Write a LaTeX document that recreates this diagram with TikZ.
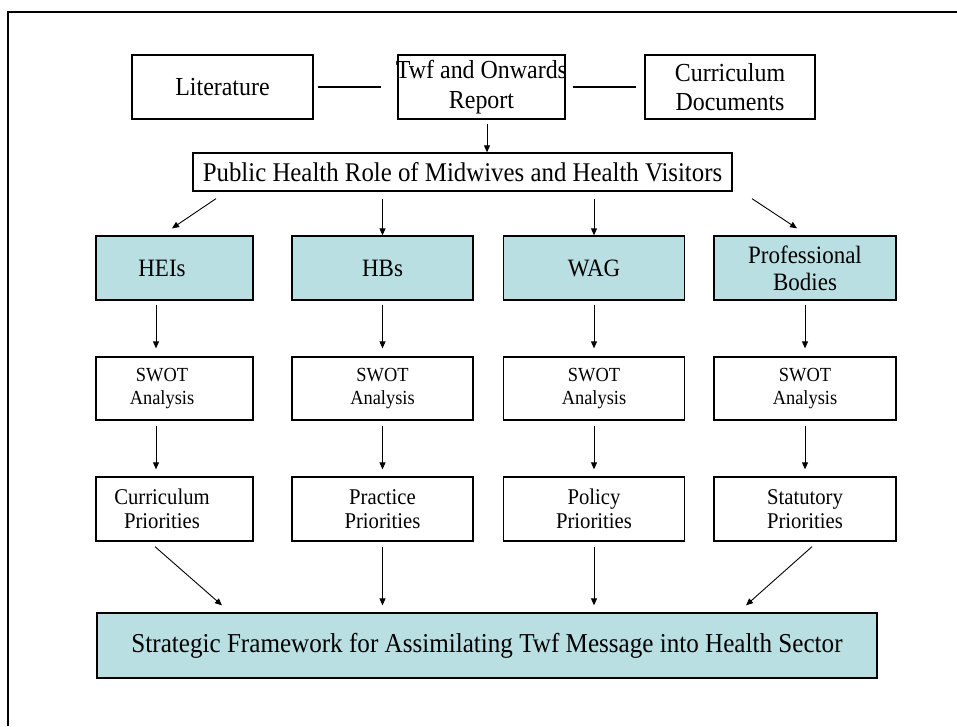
\documentclass[tikz,border=0pt]{standalone}
\usepackage{fontspec}
\setmainfont{Liberation Serif}[FakeStretch=0.92]
\usetikzlibrary{arrows.meta}
\definecolor{tealfill}{RGB}{185,223,227}
\newcommand\shiftl[1]{\makebox[0pt][c]{\hspace*{-25pt}#1}}
\begin{document}
\begin{tikzpicture}[x=1pt,y=-1pt,
  bx/.style={draw=black, line width=1.3pt, inner sep=0pt, align=center, anchor=center},
  fl/.style={bx, fill=tealfill},
  arr/.style={-{Triangle[length=7pt,width=6pt]}, line width=0.9pt},
  link/.style={line width=2pt},
  toprow/.style={minimum width=181pt, minimum height=64pt, font=\fontsize{26}{29.5}\selectfont},
  rowtwo/.style={fl, minimum width=181pt, minimum height=64pt, font=\fontsize{25}{27}\selectfont},
  swot/.style={bx, minimum width=181pt, minimum height=63pt, font=\fontsize{20}{22.5}\selectfont},
  prio/.style={bx, minimum width=181pt, minimum height=64pt, font=\fontsize{22.5}{24.5}\selectfont}]
\useasboundingbox (0,0) rectangle (957,726);
\draw[line width=2.5pt] (8,726) -- (8,12) -- (957,12);

% top row
\node[bx, toprow] (lit) at (222.5,87) {Literature};
\node[bx, toprow, minimum width=167pt] (twf) at (481.5,87)
  {\makebox[0pt][c]{Twf and Onwards}\\Report};
\node[bx, toprow, minimum width=170pt] (cur) at (730,87) {Curriculum\\Documents};
\draw[link] ([xshift=4pt]lit.east) -- ([xshift=-16pt]twf.west);
\draw[link] ([xshift=7pt]twf.east) -- ([xshift=-8pt]cur.west);

% public health
\node[bx, minimum width=539pt, minimum height=38pt, font=\fontsize{27}{30}\selectfont] (ph) at (462.5,172)
  {Public Health Role of Midwives and Health Visitors};
\draw[arr] ([xshift=5.5pt,yshift=-4pt]twf.south) -- ([xshift=24.5pt]ph.north);

% row 2
\node[rowtwo, minimum width=157pt] (hei) at (174.5,268) {\shiftl{HEIs}};
\node[rowtwo] (hb) at (382.5,268) {HBs};
\node[rowtwo] (wag) at (594,268) {WAG};
\node[rowtwo, minimum width=182pt] (pb) at (805,268) {Professional\\Bodies};

\draw[arr] ([xshift=-246.5pt,yshift=-7pt]ph.south) -- ([xshift=-2.5pt,yshift=7pt]hei.north);
\draw[arr] (ph.south -| hb.north) ++(0,7) -- (hb.north);
\draw[arr] (ph.south -| wag.north) ++(0,7) -- (wag.north);
\draw[arr] ([xshift=289.5pt,yshift=-7pt]ph.south) -- ([xshift=-8pt,yshift=7pt]pb.north);

% SWOT row
\node[swot, minimum width=157pt] (s1) at (174.5,388.5) {\shiftl{SWOT}\\\shiftl{Analysis}};
\node[swot] (s2) at (382.5,388.5) {SWOT\\Analysis};
\node[swot] (s3) at (594,388.5) {SWOT\\Analysis};
\node[swot, minimum width=182pt] (s4) at (805,388.5) {SWOT\\Analysis};

\draw[arr] ([xshift=-18.5pt,yshift=-4pt]hei.south) -- ([xshift=-18.5pt,yshift=8pt]s1.north);
\foreach \a/\b in {hb/s2,wag/s3,pb/s4}{
  \draw[arr] ([yshift=-4pt]\a.south) -- ([yshift=8pt]\b.north);
}

% priorities row
\node[prio, minimum width=157pt] (p1) at (174.5,509) {\shiftl{Curriculum}\\\shiftl{Priorities}};
\node[prio] (p2) at (382.5,509) {Practice\\Priorities};
\node[prio] (p3) at (594,509) {Policy\\Priorities};
\node[prio, minimum width=182pt] (p4) at (805,509) {Statutory\\Priorities};

\draw[arr] ([xshift=-18.5pt,yshift=-5pt]s1.south) -- ([xshift=-18.5pt,yshift=7pt]p1.north);
\foreach \a/\b in {s2/p2,s3/p3,s4/p4}{
  \draw[arr] ([yshift=-5pt]\a.south) -- ([yshift=7pt]\b.north);
}

% strategic framework
\node[fl, minimum width=780pt, minimum height=65pt, font=\fontsize{27.3}{30}\selectfont] (sf) at (487,645.5)
  {Strategic Framework for Assimilating Twf Message into Health Sector};

\draw[arr] ([xshift=-19.5pt,yshift=-5pt]p1.south) -- ([xshift=-265pt,yshift=7pt]sf.north);
\draw[arr] ([yshift=-5pt]p2.south) -- ([yshift=7pt]p2.south |- sf.north);
\draw[arr] ([yshift=-5pt]p3.south) -- ([yshift=7pt]p3.south |- sf.north);
\draw[arr] ([xshift=7pt,yshift=-5pt]p4.south) -- ([xshift=259pt,yshift=7pt]sf.north);
\end{tikzpicture}
\end{document}
